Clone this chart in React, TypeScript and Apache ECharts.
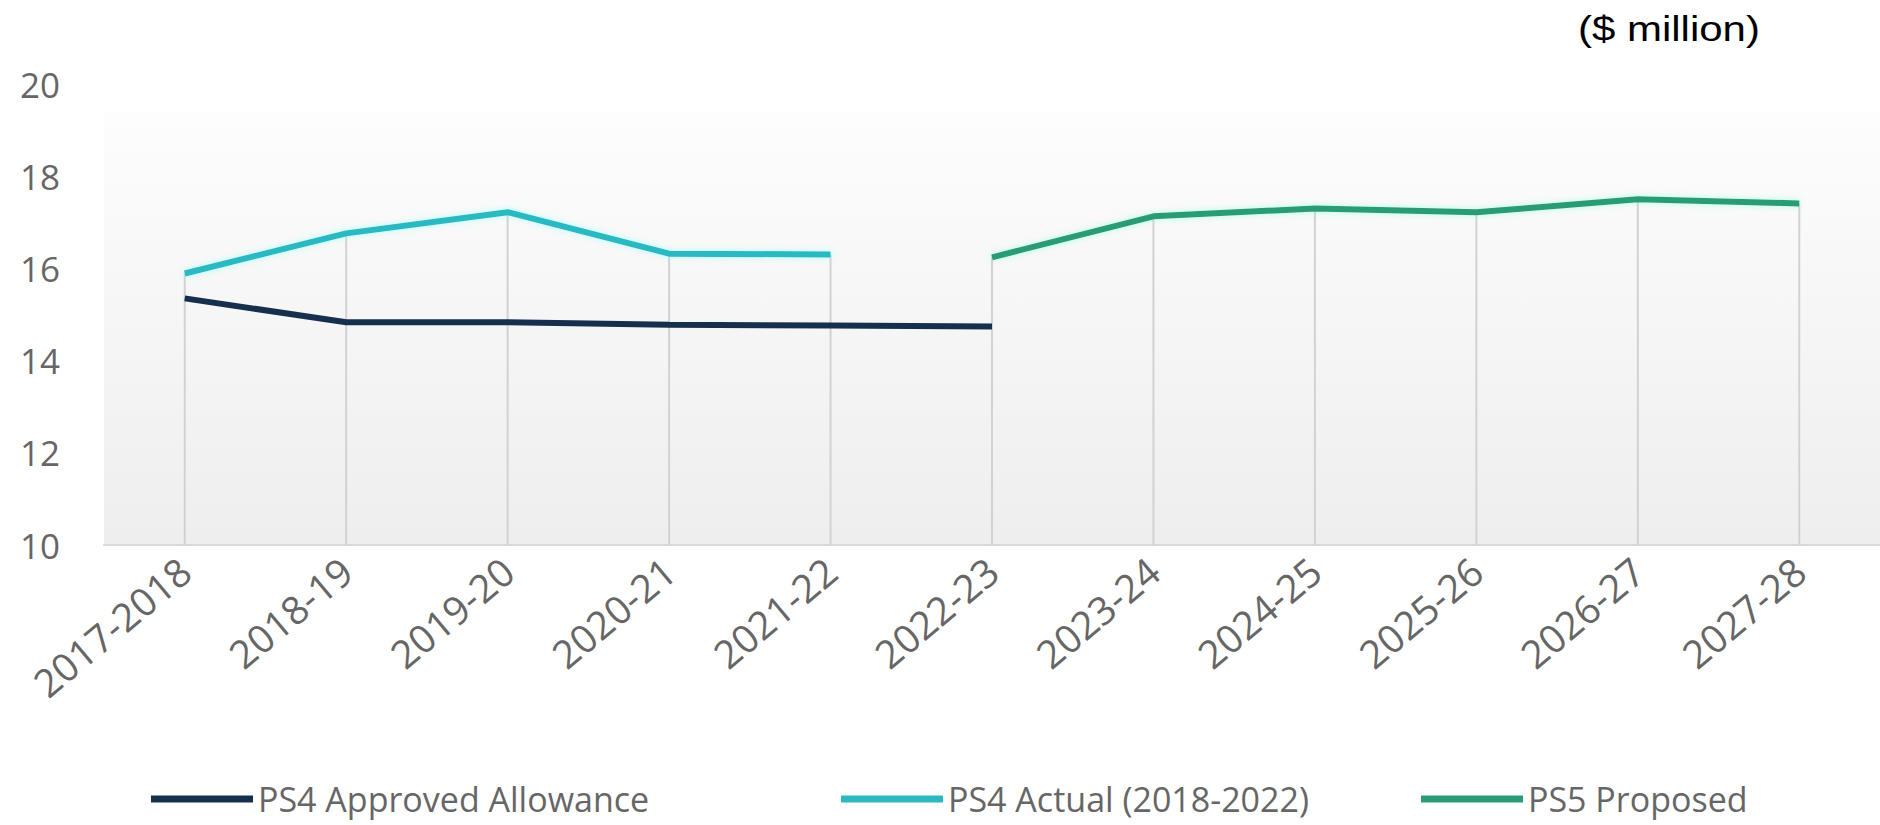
import React, { useEffect, useRef } from "react";
import * as echarts from "echarts";

const categories = [
  "2017-2018", "2018-19", "2019-20", "2020-21", "2021-22", "2022-23",
  "2023-24", "2024-25", "2025-26", "2026-27", "2027-28",
];
const approvedAllowance = [15.35, 14.83, 14.83, 14.78, 14.76, 14.74, null, null, null, null, null];
const actual = [15.89, 16.76, 17.22, 16.32, 16.3, null, null, null, null, null, null];
const proposed = [null, null, null, null, null, 16.24, 17.13, 17.3, 17.22, 17.5, 17.41];
const seriesNames = ["PS4 Approved Allowance", "PS4 Actual (2018-2022)", "PS5 Proposed"];
const yMin = 10;
const yMax = 20;
const yInterval = 2;
const unitLabel = "($ million)";

const dropTops = categories.map((_, i) => {
  const vals = [approvedAllowance[i], actual[i], proposed[i]].filter((v) => v != null) as number[];
  return [i, Math.max(...vals)];
});

export default function App() {
  const ref = useRef<HTMLDivElement>(null);
  useEffect(() => {
    if (!ref.current) return;
    const chart = echarts.init(ref.current, null, { renderer: "svg" });
    const font = "'Open Sans', 'Noto Sans', sans-serif";
    const legendLefts = [146, 836, 1416];
    const legendBase = {
      top: 776,
      icon: "rect",
      itemWidth: 102,
      itemHeight: 7,
      textStyle: { fontSize: 34, fontFamily: font, color: "#666666", lineHeight: 36 },
    };
    chart.setOption({
      animation: false,
      backgroundColor: "#ffffff",
      grid: { left: 104, width: 1784, top: 84, height: 461, containLabel: false },
      graphic: [
        {
          type: "rect",
          z: -10,
          shape: { x: 104, y: 112, width: 1776, height: 434 },
          style: {
            fill: new echarts.graphic.LinearGradient(0, 0, 0, 1, [
              { offset: 0, color: "#fdfdfd" },
              { offset: 1, color: "#eeeeee" },
            ]),
          },
          silent: true,
        },
        {
          type: "text",
          x: 1578,
          y: 29,
          scaleX: 1.2,
          style: {
            text: unitLabel,
            fontSize: 35,
            fontFamily: "'Liberation Sans', Arial, sans-serif",
            fill: "#000000",
            textVerticalAlign: "middle",
          },
          silent: true,
        },
      ],
      legend: seriesNames.map((name, i) => ({
        ...legendBase,
        left: legendLefts[i],
        data: [name],
      })),
      xAxis: {
        type: "category",
        data: categories,
        boundaryGap: true,
        axisTick: { show: false },
        axisLine: { lineStyle: { color: "#d9d9d9", width: 2 } },
        axisLabel: {
          rotate: 40,
          fontSize: 39,
          fontFamily: font,
          color: "#666666",
          margin: 20,
          interval: 0,
        },
        splitLine: { show: false },
      },
      yAxis: {
        type: "value",
        min: yMin,
        max: yMax,
        interval: yInterval,
        axisLine: { show: false },
        axisTick: { show: false },
        splitLine: { show: false },
        axisLabel: { fontSize: 35, fontFamily: font, color: "#666666", margin: 44 },
      },
      series: [
        {
          type: "custom",
          name: "drop",
          silent: true,
          z: 1,
          data: dropTops,
          encode: { x: 0, y: 1 },
          renderItem: (params: any, api: any) => {
            const top = api.coord([api.value(0), api.value(1)]);
            const bottom = api.coord([api.value(0), yMin]);
            return {
              type: "line",
              shape: { x1: top[0], y1: top[1], x2: bottom[0], y2: bottom[1] },
              style: { stroke: "#d2d2d2", lineWidth: 2 },
            };
          },
        },
        {
          type: "line",
          name: seriesNames[0],
          data: approvedAllowance,
          symbol: "none",
          z: 3,
          color: "#152f4c",
          lineStyle: { width: 6, color: "#152f4c" },
        },
        {
          type: "line",
          name: seriesNames[1],
          data: actual,
          symbol: "none",
          z: 3,
          color: "#2bb8c1",
          lineStyle: {
            width: 6,
            color: "#2bb8c1",
            shadowColor: "rgba(120,255,255,0.6)",
            shadowBlur: 6,
          },
        },
        {
          type: "line",
          name: seriesNames[2],
          data: proposed,
          symbol: "none",
          z: 3,
          color: "#2b9b74",
          lineStyle: {
            width: 6,
            color: "#2b9b74",
            shadowColor: "rgba(120,255,220,0.6)",
            shadowBlur: 6,
          },
        },
      ],
    });
    return () => chart.dispose();
  }, []);
  return (
    <div
      ref={ref}
      style={{ position: "fixed", left: 0, top: 0, width: 1880, height: 825, background: "#fff" }}
    />
  );
}
